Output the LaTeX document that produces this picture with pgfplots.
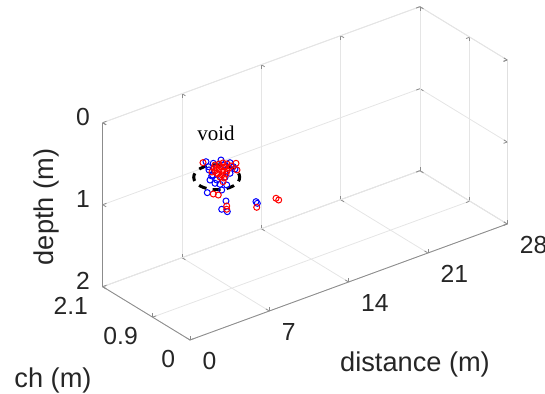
\documentclass[border=0pt]{standalone}
\usepackage{fontspec}
\setmainfont{Liberation Sans}
\newfontfamily\seriffont{Liberation Serif}
\usepackage{pgfplots}
\usepackage{pgfplotstable}
\pgfplotsset{compat=1.18}

\pgfplotstableread{
x y z
5.265 1.05 0.417
6.589 1.05 0.463
7.383 1.05 0.536
6.853 1.05 0.537
7.824 1.05 0.635
5.530 1.05 0.531
5.856 1.05 0.609
5.618 1.05 0.658
6.059 1.05 0.720
6.500 1.05 0.755
7.092 1.05 0.793
5.380 1.05 0.800
6.651 1.05 0.832
7.030 1.05 0.985
6.651 1.05 1.067
7.145 1.05 1.121
9.678 1.05 1.127
9.793 1.05 1.153
5.768 1.05 0.616
6.209 1.05 0.687
6.942 1.05 0.692
7.383 1.05 0.665
5.468 1.05 0.488
7.674 1.05 0.599
5.909 1.05 0.469
}\bluedata

\pgfplotstableread{
x y z
5.000 1.05 0.415
7.913 1.05 0.570
8.001 1.05 0.656
6.209 1.05 0.606
6.765 1.05 0.736
5.909 1.05 0.843
6.350 1.05 0.878
7.092 1.05 1.049
7.092 1.05 1.089
9.740 1.05 1.199
11.443 1.05 1.175
11.681 1.05 1.208
6.059 1.05 0.497
6.412 1.05 0.503
6.765 1.05 0.508
7.118 1.05 0.538
6.236 1.05 0.542
6.589 1.05 0.548
6.942 1.05 0.566
7.295 1.05 0.596
6.059 1.05 0.570
6.412 1.05 0.576
6.765 1.05 0.606
7.118 1.05 0.624
6.324 1.05 0.620
6.677 1.05 0.650
7.030 1.05 0.656
5.971 1.05 0.529
6.500 1.05 0.666
6.853 1.05 0.696
7.471 1.05 0.580
5.794 1.05 0.569
}\reddata

\begin{document}
\begin{tikzpicture}
\begin{axis}[
  x={(5.665pt,2.0715pt)}, y={(-20.785pt,12.69pt)}, z={(0pt,41pt)},
  xmin=0, xmax=28, ymin=0, ymax=2.1, zmin=0, zmax=2, z dir=reverse,
  xtick={0,7,14,21,28}, ytick={0,0.9,2.1}, yticklabels={0,0.9,2.1},
  ztick={0,1,2}, zticklabels={0,1,2},
  grid=major, major grid style={draw=black!10, line width=0.4pt},
  axis line style={draw=black!12, line width=0.4pt},
  tick style={draw=black!45, line width=0.4pt}, major tick length=2pt,
  ticklabel style={font=\fontsize{12.35}{14}\selectfont, text=black!85},
  /pgf/number format/assume math mode=true,
  xticklabel style={anchor=north west, inner sep=0pt, xshift=6.1pt, yshift=-6pt},
  yticklabel style={anchor=north east, inner sep=0pt, xshift=-7.2pt, yshift=-5pt},
  zticklabel style={anchor=east, inner sep=0pt, xshift=-6.25pt, yshift=2.9pt},
  clip=false,
]
\draw[black!45, line width=0.4pt] (axis cs:0,0,2) -- (axis cs:28,0,2);
\draw[black!45, line width=0.4pt] (axis cs:0,0,2) -- (axis cs:0,2.1,2);
\draw[black!45, line width=0.4pt] (axis cs:0,2.1,2) -- (axis cs:0,2.1,0);
\addplot3[only marks, mark=o, mark size=1.5pt, mark options={line width=0.5pt}, color=blue] table[x=x, y=y, z=z] {\bluedata};
\addplot3[only marks, mark=o, mark size=1.5pt, mark options={line width=0.5pt}, color=red] table[x=x, y=y, z=z] {\reddata};
\draw[black, line width=1.5pt, dash pattern=on 4pt off 3.1pt, dash phase=2pt] (axis cs:6.209,1.05,0.654) ellipse [x radius=11.5pt, y radius=6.25pt];
\coordinate (O) at (axis cs:0,0,2);
\end{axis}
\pgfresetboundingbox
\useasboundingbox ([shift={(-95pt,-27pt)}]O) rectangle ++(272.5pt,197pt);
\node[font=\fontsize{13.6}{16}\selectfont, text=black!85] at ([shift={(112.5pt,-12pt)}]O) {distance (m)};
\node[font=\fontsize{13.6}{16}\selectfont, text=black!85] at ([shift={(-68.5pt,-20pt)}]O) {ch (m)};
\node[font=\fontsize{13.6}{16}\selectfont, text=black!85, rotate=90] at ([shift={(-72pt,66.5pt)}]O) {depth (m)};
\node[font=\seriffont\fontsize{10.5}{12}\selectfont, text=black] at ([shift={(13pt,103.5pt)}]O) {void};
\end{tikzpicture}
\end{document}
